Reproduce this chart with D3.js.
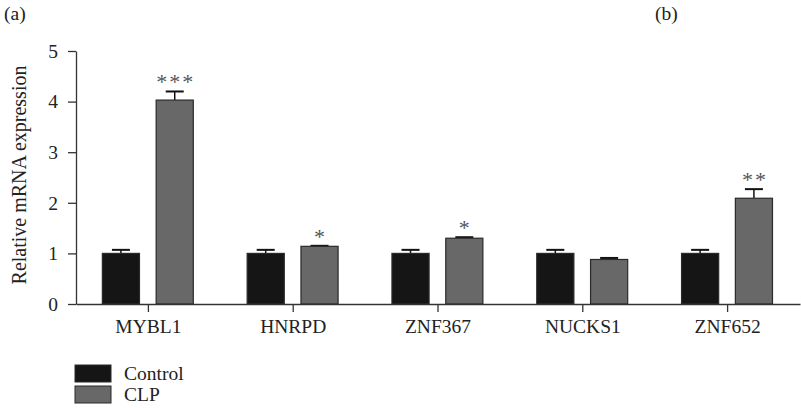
<!DOCTYPE html>
<html>
<head>
<meta charset="utf-8">
<script src="https://cdn.jsdelivr.net/npm/d3@7"></script>
<style>
  body { margin: 0; background: #fff; }
  text { font-family: "Liberation Serif", "DejaVu Serif", serif; }
</style>
</head>
<body>
<div id="container"></div>
<script>
"use strict";

const genes = ["MYBL1", "HNRPD", "ZNF367", "NUCKS1", "ZNF652"];
const groups = ["Control", "CLP"];
const controlValues = [1.0, 1.0, 1.0, 1.0, 1.0];
const controlErrors = [0.07, 0.07, 0.07, 0.07, 0.07];
const clpValues = [4.03, 1.14, 1.30, 0.88, 2.09];
const clpErrors = [0.17, 0.01, 0.02, 0.03, 0.18];
const clpStars = ["***", "*", "*", "", "**"];
const yTicks = [0, 1, 2, 3, 4, 5];

const plotWidth = 801;
const plotHeight = 408;
const colors = { Control: "#151515", CLP: "#686868" };
const axisColor = "#333";
const fontSize = "19.5px";

const svg = d3.select("#container").append("svg")
  .attr("width", plotWidth)
  .attr("height", plotHeight);

const x0 = d3.scaleBand().domain(genes).range([76, 800]);
const x1 = d3.scaleBand().domain(groups)
  .range([x0.bandwidth() * 0.182, x0.bandwidth() * 0.81])
  .paddingInner(0.31);
const y = d3.scaleLinear().domain([0, 5]).range([304, 51]);

const rows = genes.map((g, i) => ({
  gene: g,
  bars: [
    { group: "Control", value: controlValues[i], err: controlErrors[i], star: "" },
    { group: "CLP", value: clpValues[i], err: clpErrors[i], star: clpStars[i] }
  ]
}));

// y axis
const yAxis = svg.append("g")
  .attr("transform", "translate(76,0)")
  .call(d3.axisLeft(y).tickValues(yTicks).tickFormat(d3.format("d"))
    .tickSize(8).tickSizeOuter(0).tickPadding(10));
yAxis.select(".domain").attr("stroke", axisColor).attr("stroke-width", 1.3);
yAxis.selectAll(".tick line").attr("stroke", axisColor).attr("stroke-width", 1.3);
yAxis.selectAll(".tick text")
  .attr("fill", "#222")
  .style("font-size", fontSize)
  .style("font-family", "Liberation Serif, serif");

// bars
const gGroups = svg.selectAll(".gene")
  .data(rows)
  .enter().append("g")
  .attr("class", "gene")
  .attr("transform", d => `translate(${x0(d.gene)},0)`);

const bar = gGroups.selectAll(".bar")
  .data(d => d.bars)
  .enter().append("g")
  .attr("class", "bar");

// error bars (upper only)
bar.append("line")
  .attr("x1", d => x1(d.group) + x1.bandwidth() / 2)
  .attr("x2", d => x1(d.group) + x1.bandwidth() / 2)
  .attr("y1", d => y(d.value))
  .attr("y2", d => y(d.value + d.err))
  .attr("stroke", "#111")
  .attr("stroke-width", 1.5);
bar.append("line")
  .attr("x1", d => x1(d.group) + x1.bandwidth() / 2 - 9)
  .attr("x2", d => x1(d.group) + x1.bandwidth() / 2 + 9)
  .attr("y1", d => y(d.value + d.err))
  .attr("y2", d => y(d.value + d.err))
  .attr("stroke", "#111")
  .attr("stroke-width", 2);

bar.append("rect")
  .attr("x", d => x1(d.group))
  .attr("y", d => y(d.value))
  .attr("width", x1.bandwidth())
  .attr("height", d => y(0) - y(d.value))
  .attr("fill", d => colors[d.group])
  .attr("stroke", "#2a2a2a")
  .attr("stroke-width", 1.2);

bar.append("text")
  .attr("x", d => x1(d.group) + x1.bandwidth() / 2 + 1)
  .attr("y", d => y(d.value + d.err) - 2)
  .attr("text-anchor", "middle")
  .attr("fill", "#555")
  .style("font-size", "22px")
  .style("letter-spacing", "2px")
  .text(d => d.star);

// x axis
const xAxis = svg.append("g")
  .attr("transform", "translate(0,304)")
  .call(d3.axisBottom(x0).tickSize(8).tickSizeOuter(0).tickPadding(7));
xAxis.select(".domain").attr("stroke", axisColor).attr("stroke-width", 1.3);
xAxis.selectAll(".tick line").attr("stroke", axisColor).attr("stroke-width", 1.3);
xAxis.selectAll(".tick text")
  .attr("fill", "#222")
  .style("font-size", fontSize)
  .style("font-family", "Liberation Serif, serif");

// y label
svg.append("text")
  .attr("transform", "translate(26,175) rotate(-90)")
  .attr("text-anchor", "middle")
  .attr("fill", "#222")
  .style("font-size", "20px")
  .text("Relative mRNA expression");

// panel labels
svg.append("text").attr("x", 4).attr("y", 20).attr("fill", "#222")
  .style("font-size", fontSize).text("(a)");
svg.append("text").attr("x", 655).attr("y", 20).attr("fill", "#222")
  .style("font-size", fontSize).text("(b)");

// legend
const legend = svg.selectAll(".legend")
  .data(groups)
  .enter().append("g")
  .attr("class", "legend")
  .attr("transform", (d, i) => `translate(75,${365 + i * 21})`);
legend.append("rect")
  .attr("width", 36)
  .attr("height", 17)
  .attr("fill", d => colors[d])
  .attr("stroke", "#2a2a2a")
  .attr("stroke-width", 1);
legend.append("text")
  .attr("x", 49)
  .attr("y", 14.5)
  .attr("fill", "#222")
  .style("font-size", fontSize)
  .text(d => d);
</script>
</body>
</html>
